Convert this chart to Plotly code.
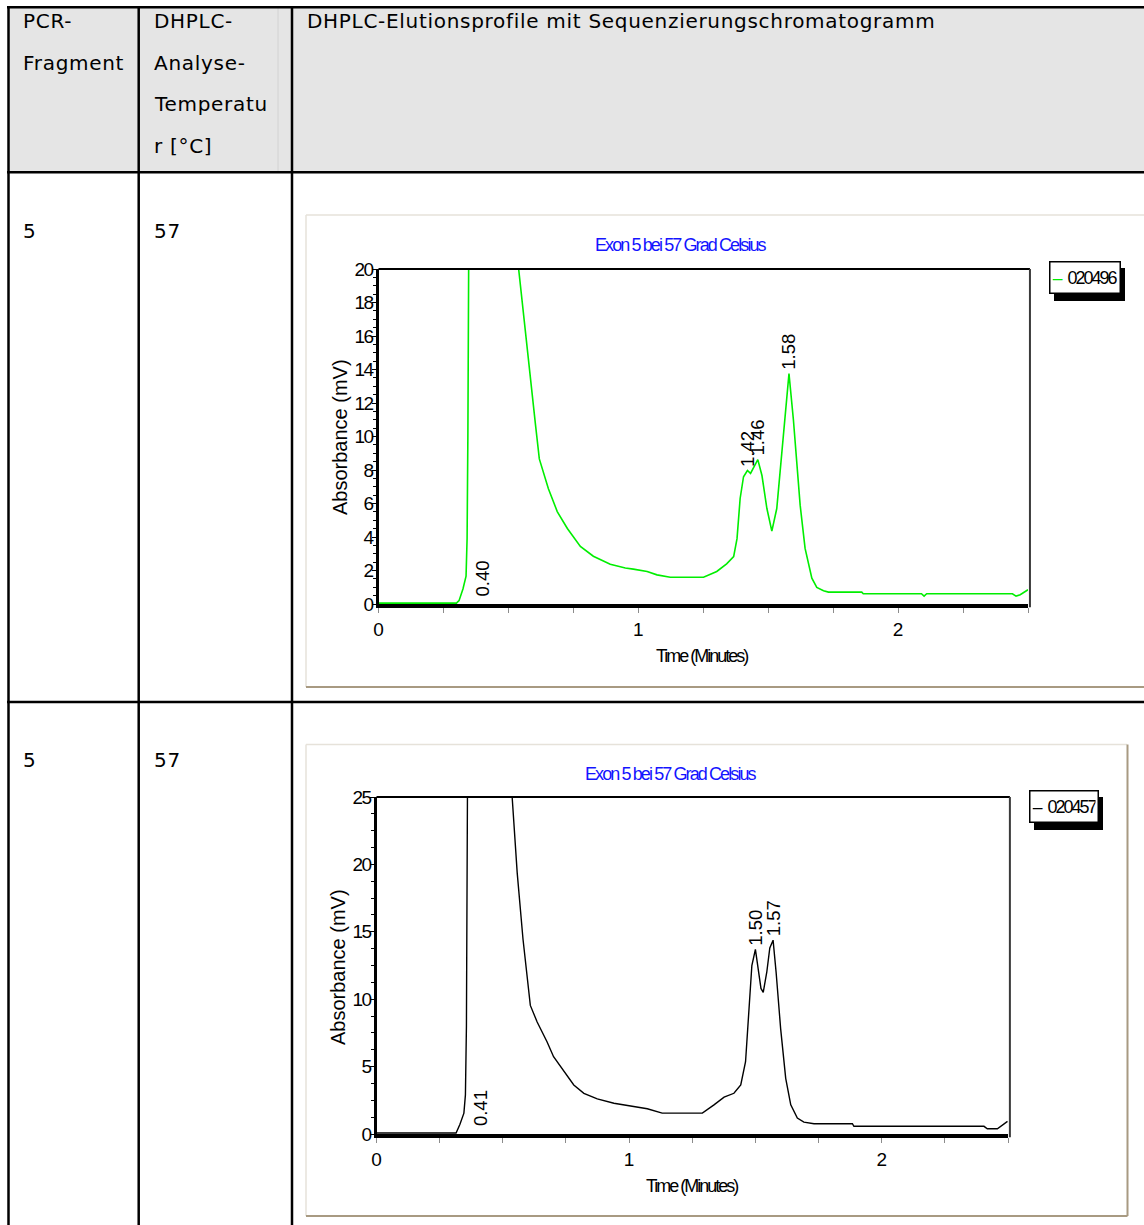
import plotly.graph_objects as go

# ---------------------------------------------------------------------------
# Page geometry (pixels) – everything is laid out on one 1144 x 1225 sheet
# ---------------------------------------------------------------------------
W, H = 1144, 1225


def fx(px):
    return px / W


def fy(py):
    return 1 - py / H


# ---------------------------------------------------------------------------
# Table content
# ---------------------------------------------------------------------------
col1_header = ["PCR-", "Fragment"]
col2_header = ["DHPLC-", "Analyse-", "Temperatu", "r [°C]"]
col3_header = "DHPLC-Elutionsprofile mit Sequenzierungschromatogramm"
fragments = ["5", "5"]
temperatures = ["57", "57"]

chart_title = "Exon 5 bei 57 Grad Celsius"
x_title = "Time (Minutes)"
y_title = "Absorbance (mV)"

# ---------------------------------------------------------------------------
# Chromatogram 1 – sample 020496 (green)
# ---------------------------------------------------------------------------
sample1 = "020496"
t1 = [0.00, 0.10, 0.20, 0.30, 0.31, 0.325, 0.337, 0.341, 0.344, 0.347,
      0.40,
      0.539, 0.55, 0.569, 0.588, 0.604, 0.619, 0.654, 0.688, 0.727, 0.777,
      0.827, 0.892, 0.95, 0.981, 1.034, 1.072, 1.123, 1.20, 1.251, 1.302,
      1.34, 1.367, 1.38, 1.392, 1.405, 1.42, 1.432, 1.46, 1.476, 1.495,
      1.514, 1.533, 1.546, 1.565, 1.58, 1.597, 1.616, 1.623, 1.642, 1.668,
      1.687, 1.713, 1.732, 1.86, 1.866, 2.09, 2.10, 2.11, 2.44, 2.454,
      2.47, 2.50]
a1 = [0.05, 0.05, 0.05, 0.05, 0.2, 0.9, 1.66, 3.9, 10.0, 20.0,
      40.0,
      20.0, 18.16, 15.61, 12.82, 10.74, 8.66, 6.88, 5.52, 4.51, 3.44,
      2.85, 2.37, 2.15, 2.08, 1.94, 1.74, 1.6, 1.6, 1.6, 1.94,
      2.4, 2.83, 3.9, 6.3, 7.6, 7.97, 7.8, 8.62, 7.67, 5.7,
      4.35, 5.7, 7.88, 11.2, 13.75, 11.0, 7.5, 5.9, 3.32, 1.54,
      0.99, 0.79, 0.71, 0.71, 0.61, 0.61, 0.47, 0.61, 0.61, 0.47,
      0.55, 0.85]
peaks1 = [0.40, 1.42, 1.46, 1.58]
y1_ticks = [0, 2, 4, 6, 8, 10, 12, 14, 16, 18, 20]

# ---------------------------------------------------------------------------
# Chromatogram 2 – sample 020457 (black)
# ---------------------------------------------------------------------------
sample2 = "020457"
t2 = [0.00, 0.10, 0.20, 0.315, 0.33, 0.346, 0.352, 0.356, 0.36,
      0.41,
      0.537, 0.557, 0.58, 0.602, 0.609, 0.636, 0.675, 0.701, 0.748,
      0.781, 0.821, 0.874, 0.94, 1.006, 1.072, 1.131, 1.29, 1.336, 1.376,
      1.415, 1.442, 1.461, 1.475, 1.486, 1.50, 1.51, 1.522, 1.531, 1.545,
      1.557, 1.57, 1.582, 1.593, 1.60, 1.62, 1.64, 1.666, 1.692, 1.732,
      1.884, 1.89, 2.405, 2.418, 2.458, 2.498]
a2 = [0.07, 0.07, 0.07, 0.07, 0.7, 1.55, 2.9, 8.0, 25.0,
      40.0,
      25.0, 19.37, 14.45, 10.77, 9.54, 8.31, 6.84, 5.73, 4.5,
      3.64, 3.02, 2.6, 2.28, 2.09, 1.87, 1.55, 1.55, 2.16, 2.73,
      3.02, 3.64, 5.36, 9.05, 12.5, 13.7, 12.5, 10.8, 10.5, 12.0,
      13.8, 14.38, 12.0, 9.3, 7.8, 4.13, 2.16, 1.18, 0.88, 0.76,
      0.76, 0.57, 0.57, 0.39, 0.39, 0.94]
peaks2 = [0.41, 1.50, 1.57]
y2_ticks = [0, 5, 10, 15, 20, 25]

x_ticks = [0, 1, 2]

# ---------------------------------------------------------------------------
# Styles
# ---------------------------------------------------------------------------
TABLE_FONT = "DejaVu Sans, Verdana, sans-serif"
SANS = "Liberation Sans, Arial, Helvetica, sans-serif"
GREEN = "#00ee00"
BLUE = "#1414ff"
FRAME_LIGHT = "#e6e2da"
FRAME_DARK = "#a89a82"


def spaced(s, ls):
    """Wrap text in a tspan with the given letter spacing (px)."""
    return f'<span style="letter-spacing:{ls}px">{s}</span>'


fig = go.Figure()

# traces ---------------------------------------------------------------------
fig.add_trace(go.Scatter(x=t1, y=a1, mode="lines", name=sample1,
                         line=dict(color=GREEN, width=1.6),
                         xaxis="x", yaxis="y", showlegend=False,
                         hoverinfo="skip"))
fig.add_trace(go.Scatter(x=t2, y=a2, mode="lines", name=sample2,
                         line=dict(color="black", width=1.4),
                         xaxis="x2", yaxis="y2", showlegend=False,
                         hoverinfo="skip"))

# axes -----------------------------------------------------------------------
plots = [
    # (x-domain px, y-domain px, y max, y minor step, y ticks)
    dict(xd=(378.5, 1028), yd=(604, 269), ymax=20, minor=0.5, yt=y1_ticks),
    dict(xd=(376.5, 1008), yd=(1134, 797), ymax=25, minor=1.25, yt=y2_ticks),
]

for i, p in enumerate(plots):
    sfx = "" if i == 0 else str(i + 1)
    xa = dict(
        domain=[fx(p["xd"][0]), fx(p["xd"][1])],
        anchor="y" + sfx, automargin=False,
        range=[0, 2.5], showgrid=False, zeroline=False,
        showline=True, linecolor="black", linewidth=4,
        ticks="outside", ticklen=5, tickwidth=1, tickcolor="#8c8c8c",
        tickvals=x_ticks, ticktext=[str(v) for v in x_ticks],
        tickfont=dict(family=SANS, size=19, color="black"),
        minor=dict(dtick=0.25, ticks="outside", ticklen=5,
                   tickwidth=1, tickcolor="#8c8c8c"),
        fixedrange=True,
    )
    ya = dict(
        domain=[fy(p["yd"][0]), fy(p["yd"][1])],
        anchor="x" + sfx, automargin=False,
        range=[0, p["ymax"]], showgrid=False, zeroline=False,
        showline=True, linecolor="black", linewidth=3,
        ticks="outside", ticklen=4, tickwidth=1, tickcolor="black",
        ticklabelstandoff=-5,
        tickvals=p["yt"], ticktext=[spaced(str(v), -1.5) for v in p["yt"]],
        tickfont=dict(family=SANS, size=19, color="black"),
        minor=dict(dtick=p["minor"], ticks="outside", ticklen=3,
                   tickwidth=1, tickcolor="black"),
        fixedrange=True,
    )
    fig.layout["xaxis" + sfx] = xa
    fig.layout["yaxis" + sfx] = ya

shapes = []
annotations = []


def line_px(x0, y0, x1, y1, color="black", width=2.5):
    shapes.append(dict(type="line", xref="paper", yref="paper",
                       x0=fx(x0), y0=fy(y0), x1=fx(x1), y1=fy(y1),
                       line=dict(color=color, width=width), layer="above"))


def text_px(x, y, s, size, family, color="black", xanchor="left",
            yanchor="middle", angle=0):
    annotations.append(dict(xref="paper", yref="paper", x=fx(x), y=fy(y),
                            text=s, showarrow=False, xanchor=xanchor,
                            yanchor=yanchor, textangle=angle,
                            font=dict(family=family, size=size, color=color)))


# table: header shading ------------------------------------------------------
shapes.append(dict(type="rect", xref="paper", yref="paper",
                   x0=fx(8), x1=fx(1150), y0=fy(172), y1=fy(7),
                   fillcolor="#e5e5e5", line=dict(width=0), layer="below"))
line_px(278, 7, 278, 172, color="#d2d2d2", width=1)

# table: grid lines
line_px(7, 7.3, 1150, 7.3)
line_px(7, 172.3, 1150, 172.3)
line_px(7, 702, 1150, 702)
for xv in (8.5, 138.7, 292):
    line_px(xv, 6, xv, 1230)

# table: header text
TS = 20
LS = 0.7
for k, s in enumerate(col1_header):
    text_px(21, 21.5 + 41.4 * k, spaced(s, LS), TS, TABLE_FONT)
for k, s in enumerate(col2_header):
    text_px(152, 21.5 + 41.4 * k, spaced(s, LS), TS, TABLE_FONT)
text_px(305, 21.5, spaced(col3_header, LS), TS, TABLE_FONT)

# table: body text
for row_y, frag, temp in zip((230.5, 759.5), fragments, temperatures):
    text_px(21, row_y, spaced(frag, LS), TS, TABLE_FONT)
    text_px(152, row_y, spaced(temp, LS), TS, TABLE_FONT)

# chart frames (bevelled picture borders) -----------------------------------
# chart 1 (runs past the right page edge)
line_px(306, 215, 1150, 215, FRAME_LIGHT, 1.5)
line_px(306, 215, 306, 687, FRAME_LIGHT, 1.5)
line_px(306, 687, 1150, 687, FRAME_DARK, 2)
# chart 2
line_px(306, 744.5, 1127, 744.5, FRAME_LIGHT, 1.5)
line_px(306, 744.5, 306, 1216, FRAME_LIGHT, 1.5)
line_px(306, 1216, 1127.5, 1216, FRAME_DARK, 2)
line_px(1127.5, 744.5, 1127.5, 1216, FRAME_DARK, 2)

# plot-area top / right borders
for sfx in ("", "2"):
    xr, yr = "x" + sfx + " domain", "y" + sfx + " domain"
    shapes.append(dict(type="line", xref=xr, yref=yr, x0=0, x1=1.003,
                       y0=1, y1=1, line=dict(color="black", width=2)))
    shapes.append(dict(type="line", xref=xr, yref=yr, x0=1.003, x1=1.003,
                       y0=-0.01, y1=1, line=dict(color="#3a3a3a", width=2)))

# chart titles / axis titles -------------------------------------------------
chart_text = [
    # title (x, y), x-title (x, y), y-title (x, y)
    dict(title=(681, 245), xt=(702, 656), yt=(340, 437)),
    dict(title=(671, 774), xt=(692, 1186), yt=(338, 967)),
]
for c in chart_text:
    text_px(c["title"][0], c["title"][1], spaced(chart_title, -1.9), 18,
            SANS, color=BLUE, xanchor="center")
    text_px(c["xt"][0], c["xt"][1], spaced(x_title, -2.0), 18, SANS,
            xanchor="center")
    text_px(c["yt"][0], c["yt"][1], y_title, 20, SANS, xanchor="center",
            angle=-90)

# legend boxes with drop shadow ---------------------------------------------
legends = [
    dict(box=(1049, 261, 1121, 294), color=GREEN, name=sample1),
    dict(box=(1029, 790, 1099, 823), color="black", name=sample2),
]
for lg in legends:
    x0, y0, x1, y1 = lg["box"]
    shapes.append(dict(type="rect", xref="paper", yref="paper",
                       x0=fx(x0 + 5), x1=fx(x1 + 4), y0=fy(y1 + 7),
                       y1=fy(y0 + 7), fillcolor="black",
                       line=dict(width=0), layer="above"))
    annotations.append(dict(
        xref="paper", yref="paper", x=fx(x0), y=fy(y0),
        xanchor="left", yanchor="top", showarrow=False,
        width=x1 - x0 - 7, height=y1 - y0 - 7, borderpad=2,
        borderwidth=1.5, bordercolor="black", bgcolor="white",
        align="left", valign="middle",
        text=(f'<span style="color:{lg["color"]}">–</span> '
              + spaced(lg["name"], -2.0)),
        font=dict(family=SANS, size=18, color="black")))

# retention-time labels above the peaks -------------------------------------
for sfx, ts, ys, pk, ymax in (("", t1, a1, peaks1, 20),
                             ("2", t2, a2, peaks2, 25)):
    for pt in pk:
        val = ys[ts.index(pt)]
        on_scale = val <= ymax
        annotations.append(dict(
            xref="x" + sfx, yref="y" + sfx, x=pt,
            y=val if on_scale else 0,
            yshift=3 if on_scale else 7,
            text=f"{pt:.2f}", textangle=-90, showarrow=False,
            xanchor="center", yanchor="bottom", borderpad=0,
            font=dict(family=SANS, size=18.5, color="black")))

fig.update_layout(
    width=W, height=H, autosize=False,
    margin=dict(l=0, r=0, t=0, b=0, pad=0, autoexpand=False),
    paper_bgcolor="white", plot_bgcolor="white",
    showlegend=False,
    shapes=shapes, annotations=annotations,
)

# page without the browser's default body margin
fig.write_html(
    "out.html",
    config={"displayModeBar": False, "staticPlot": True, "responsive": False},
    post_script=("document.body.style.margin='0px';"
                 "document.body.style.overflow='hidden';"),
)
